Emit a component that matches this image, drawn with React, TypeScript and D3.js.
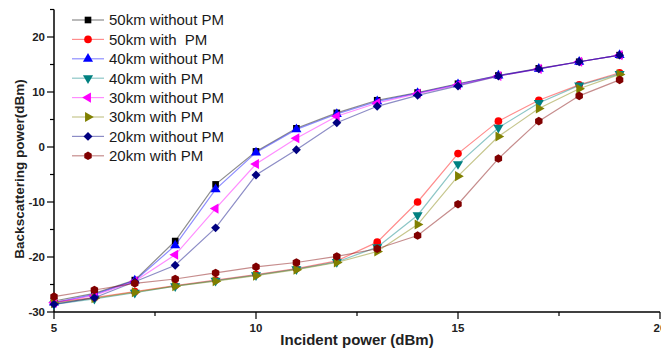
import React, { useEffect, useRef } from "react";
import * as d3 from "d3";

const incident = [5, 6, 7, 8, 9, 10, 11, 12, 13, 14, 15, 16, 17, 18, 19];

const km50NoPM = [-28.0, -26.6, -24.2, -17.1, -6.8, -0.8, 3.4, 6.2, 8.5, 9.9, 11.5, 13.0, 14.3, 15.5, 16.7];
const km50PM = [-28.2, -27.4, -26.3, -25.2, -24.2, -23.2, -22.1, -20.7, -17.3, -10.0, -1.2, 4.7, 8.5, 11.3, 13.5];
const km40NoPM = [-28.3, -26.8, -24.3, -17.9, -7.7, -1.0, 3.2, 6.0, 8.3, 9.8, 11.4, 13.0, 14.2, 15.5, 16.7];
const km40PM = [-28.6, -27.6, -26.5, -25.3, -24.3, -23.3, -22.2, -20.9, -18.2, -12.4, -3.1, 3.5, 8.0, 11.2, 13.3];
const km30NoPM = [-28.3, -27.0, -24.4, -19.6, -11.2, -3.1, 1.6, 5.6, 8.0, 9.7, 11.3, 12.9, 14.2, 15.5, 16.7];
const km30PM = [-28.4, -27.5, -26.4, -25.3, -24.4, -23.4, -22.3, -21.0, -19.0, -14.1, -5.3, 1.9, 7.0, 10.6, 13.2];
const km20NoPM = [-28.6, -27.4, -24.5, -21.5, -14.7, -5.1, -0.5, 4.4, 7.4, 9.4, 11.1, 12.9, 14.2, 15.5, 16.7];
const km20PM = [-27.2, -26.0, -24.8, -24.0, -22.9, -21.8, -21.0, -19.9, -18.5, -16.1, -10.4, -2.1, 4.7, 9.3, 12.2];

const seriesNames = [
  "50km without PM",
  "50km with  PM",
  "40km without PM",
  "40km with PM",
  "30km without PM",
  "30km with PM",
  "20km without PM",
  "20km with PM",
];
const seriesValues = [km50NoPM, km50PM, km40NoPM, km40PM, km30NoPM, km30PM, km20NoPM, km20PM];
const seriesColors = ["#000000", "#ff0000", "#0000ff", "#008080", "#ff00ff", "#808000", "#000080", "#800000"];

const xTicks = [5, 10, 15, 20];
const yTicks = [-30, -20, -10, 0, 10, 20];

// hexagon marker for the last series
const hexagon = {
  draw(ctx: any, size: number) {
    const r = Math.sqrt(size / 2.6);
    for (let i = 0; i < 6; i++) {
      const a = (Math.PI / 3) * i + Math.PI / 6;
      const px = r * Math.cos(a), py = r * Math.sin(a);
      if (i === 0) ctx.moveTo(px, py);
      else ctx.lineTo(px, py);
    }
    ctx.closePath();
  },
};

// symbol type, rotation, size per series
const markers: [any, number, number][] = [
  [d3.symbolSquare, 0, 44],
  [d3.symbolCircle, 0, 46],
  [d3.symbolTriangle, 0, 44],
  [d3.symbolTriangle, 180, 44],
  [d3.symbolTriangle, -90, 44],
  [d3.symbolTriangle, 90, 44],
  [d3.symbolSquare, 45, 40],
  [hexagon, 0, 48],
];

export default function App() {
  const ref = useRef<SVGSVGElement>(null);

  useEffect(() => {
    const svg = d3.select(ref.current);
    svg.selectAll("*").remove();
    const font = "Liberation Sans, Arial, sans-serif";

    const x = d3.scaleLinear().domain([5, 20]).range([54, 660]);
    const y = d3.scaleLinear().domain([-30, 25]).range([312, 9.5]);

    // axes
    const yAxis = svg.append("g").attr("transform", "translate(54,0)");
    yAxis.append("line").attr("y1", y(25)).attr("y2", y(-30)).attr("stroke", "#000").attr("stroke-width", 1.5);
    yAxis.selectAll(".minor").data([-25, -15, -5, 5, 15, 25]).enter().append("line")
      .attr("x1", -4).attr("x2", 0).attr("y1", (d) => y(d)).attr("y2", (d) => y(d))
      .attr("stroke", "#000").attr("stroke-width", 1.2);
    yAxis.selectAll(".major").data(yTicks).enter().append("line")
      .attr("x1", -7).attr("x2", 0).attr("y1", (d) => y(d)).attr("y2", (d) => y(d))
      .attr("stroke", "#000").attr("stroke-width", 1.2);
    yAxis.selectAll("text").data(yTicks).enter().append("text")
      .attr("x", -9).attr("y", (d) => y(d)).attr("dy", "0.35em")
      .attr("text-anchor", "end").attr("font-family", font)
      .attr("font-weight", "bold").attr("font-size", 11.5).attr("fill", "#222")
      .text((d) => d);

    const xAxis = svg.append("g").attr("transform", `translate(0,${y(-30)})`);
    xAxis.append("line").attr("x1", x(5)).attr("x2", x(20)).attr("stroke", "#000").attr("stroke-width", 1.5);
    xAxis.selectAll(".minor").data([7.5, 12.5, 17.5]).enter().append("line")
      .attr("x1", (d) => x(d)).attr("x2", (d) => x(d)).attr("y1", 0).attr("y2", 4)
      .attr("stroke", "#000").attr("stroke-width", 1.2);
    xAxis.selectAll(".major").data(xTicks).enter().append("line")
      .attr("x1", (d) => x(d)).attr("x2", (d) => x(d)).attr("y1", 0).attr("y2", 7)
      .attr("stroke", "#000").attr("stroke-width", 1.2);
    xAxis.selectAll("text").data(xTicks).enter().append("text")
      .attr("x", (d) => x(d)).attr("y", 20)
      .attr("text-anchor", "middle").attr("font-family", font)
      .attr("font-weight", "bold").attr("font-size", 11.5).attr("fill", "#222")
      .text((d) => d);

    svg.append("text")
      .attr("x", 357).attr("y", 345).attr("text-anchor", "middle")
      .attr("font-family", font).attr("font-weight", "bold")
      .attr("font-size", 15).attr("fill", "#222")
      .text("Incident power (dBm)");

    svg.append("text")
      .attr("transform", "translate(24,169) rotate(-90)").attr("text-anchor", "middle")
      .attr("font-family", font).attr("font-weight", "bold")
      .attr("font-size", 13.5).attr("fill", "#222")
      .text("Backscattering power(dBm)");

    const line = d3.line<number>().x((d, i) => x(incident[i])).y((d) => y(d));

    seriesValues.forEach((vals, s) => {
      const g = svg.append("g");
      g.append("path").attr("d", line(vals)).attr("fill", "none")
        .attr("stroke", seriesColors[s]).attr("stroke-opacity", 0.45).attr("stroke-width", 1.2);
      const [type, rot, size] = markers[s];
      const sym = d3.symbol().type(type).size(size);
      g.selectAll("path.m").data(vals).enter().append("path").attr("class", "m")
        .attr("d", sym())
        .attr("transform", (d, i) => `translate(${x(incident[i])},${y(d)}) rotate(${rot})`)
        .attr("fill", seriesColors[s]);
    });

    // legend
    const legend = svg.append("g");
    seriesNames.forEach((name, s) => {
      const ly = 20 + s * 19.4;
      legend.append("line").attr("x1", 72).attr("x2", 104).attr("y1", ly).attr("y2", ly)
        .attr("stroke", seriesColors[s]).attr("stroke-opacity", 0.45).attr("stroke-width", 1.2);
      const [type, rot, size] = markers[s];
      legend.append("path").attr("d", d3.symbol().type(type).size(size)())
        .attr("transform", `translate(88,${ly}) rotate(${rot})`)
        .attr("fill", seriesColors[s]);
      legend.append("text").attr("x", 109).attr("y", ly).attr("dy", "0.36em")
        .attr("font-family", font).attr("font-size", 15)
        .attr("fill", "#1a1a1a").style("white-space", "pre")
        .text(name);
    });
  }, []);

  return (
    <svg
      ref={ref}
      width={661}
      height={349}
      style={{ position: "absolute", left: 0, top: 0, background: "#fff" }}
    />
  );
}
